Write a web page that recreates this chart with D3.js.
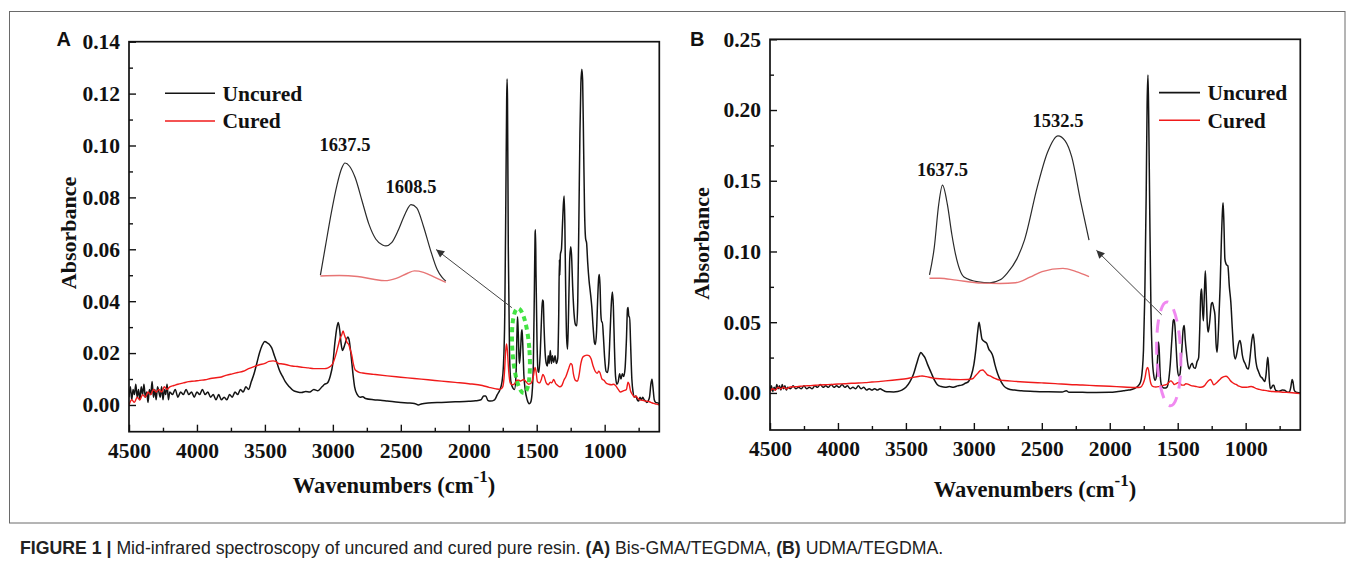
<!DOCTYPE html>
<html lang="en">
  <head>
    <meta charset="utf-8">
    <title>Mid-infrared spectra</title>
    <script src="https://d3js.org/d3.v7.min.js"></script>
    <style>
      body { margin: 0; background: #fff; }
    </style>
  </head>
  <body>
    <svg id="fig" width="1355" height="571"></svg>
    <script>
      // values: [wavenumber (cm-1), absorbance]
      var seriesNames = ["Uncured", "Cured"];
      var xTickLabels = [4500, 4000, 3500, 3000, 2500, 2000, 1500, 1000];
      var xMinorTicks = [4250, 3750, 3250, 2750, 2250, 1750, 1250, 750];
      var yTickLabelsA = [0, 0.02, 0.04, 0.06, 0.08, 0.10, 0.12, 0.14];
      var yMinorTicksA = [0.01, 0.03, 0.05, 0.07, 0.09, 0.11, 0.13];
      var yTickLabelsB = [0, 0.05, 0.10, 0.15, 0.20, 0.25];
      var yMinorTicksB = [0.025, 0.075, 0.125, 0.175, 0.225];

      var uncuredA = [[4500,0.003],[4490,0.007],[4480,0.002],[4470,0.006],[4460,0.004],[4450,0.008],[4440,0.003],[4430,0.006],[4420,0.002],[4410,0.007],[4400,0.004],[4390,0.008],[4380,0.003],[4370,0.005],[4360,0.001],[4350,0.006],[4340,0.004],[4330,0.009],[4320,0.003],[4310,0.006],[4300,0.002],[4290,0.007],[4280,0.005],[4270,0.003],[4260,0.007],[4250,0.002],[4240,0.006],[4230,0.004],[4220,0.008],[4210,0.002],[4200,0.005],[4180,0.004],[4160,0.006],[4140,0.003],[4120,0.005],[4100,0.004],[4080,0.006],[4060,0.004],[4040,0.005],[4020,0.003],[4000,0.005],[3980,0.004],[3960,0.006],[3940,0.004],[3920,0.005],[3900,0.003],[3880,0.004],[3860,0.002],[3840,0.004],[3820,0.002],[3800,0.003],[3780,0.002],[3760,0.004],[3740,0.003],[3720,0.005],[3700,0.004],[3680,0.006],[3660,0.005],[3640,0.007],[3620,0.006],[3600,0.009],[3580,0.012],[3560,0.016],[3540,0.020],[3520,0.023],[3500,0.0245],[3485,0.024],[3470,0.0235],[3450,0.022],[3430,0.019],[3410,0.016],[3390,0.013],[3370,0.011],[3350,0.009],[3320,0.007],[3290,0.0055],[3260,0.005],[3230,0.0048],[3200,0.0052],[3170,0.005],[3140,0.006],[3110,0.0055],[3080,0.007],[3060,0.008],[3040,0.0085],[3020,0.011],[3000,0.016],[2985,0.024],[2970,0.030],[2960,0.0318],[2950,0.029],[2940,0.024],[2930,0.021],[2920,0.022],[2905,0.0245],[2890,0.0262],[2880,0.025],[2870,0.021],[2860,0.016],[2850,0.011],[2840,0.007],[2820,0.004],[2800,0.003],[2780,0.0032],[2760,0.0025],[2700,0.002],[2650,0.0018],[2600,0.0015],[2550,0.0012],[2500,0.001],[2450,0.0008],[2400,0.0006],[2370,0.0],[2350,0.0004],[2300,0.0008],[2200,0.001],[2100,0.0012],[2000,0.0014],[1950,0.0016],[1910,0.002],[1890,0.0035],[1875,0.0035],[1860,0.0018],[1840,0.0015],[1810,0.002],[1790,0.004],[1770,0.006],[1756,0.0087],[1745,0.015],[1735,0.035],[1727,0.08],[1721,0.118],[1718,0.1256],[1715,0.118],[1709,0.06],[1700,0.02],[1690,0.009],[1675,0.0065],[1663,0.006],[1652,0.012],[1645,0.028],[1641,0.034],[1636,0.028],[1630,0.018],[1626,0.016],[1618,0.022],[1612,0.028],[1608,0.029],[1603,0.024],[1595,0.012],[1585,0.006],[1570,0.002],[1555,0.0005],[1545,0.001],[1535,0.004],[1525,0.015],[1517,0.045],[1512,0.066],[1509,0.0675],[1505,0.05],[1498,0.025],[1490,0.013],[1484,0.0126],[1474,0.02],[1465,0.033],[1458,0.0405],[1452,0.04],[1446,0.03],[1438,0.02],[1430,0.016],[1422,0.015],[1415,0.019],[1408,0.016],[1400,0.021],[1392,0.016],[1385,0.019],[1375,0.0165],[1365,0.019],[1355,0.016],[1345,0.018],[1338,0.035],[1333,0.056],[1330,0.050],[1326,0.058],[1318,0.06],[1310,0.07],[1303,0.078],[1298,0.0805],[1293,0.07],[1287,0.045],[1280,0.026],[1273,0.0215],[1266,0.035],[1258,0.055],[1250,0.061],[1244,0.058],[1235,0.045],[1225,0.035],[1215,0.031],[1205,0.0305],[1198,0.04],[1190,0.07],[1182,0.105],[1175,0.124],[1168,0.1294],[1162,0.125],[1155,0.10],[1148,0.075],[1140,0.064],[1133,0.0625],[1125,0.055],[1115,0.048],[1105,0.0433],[1095,0.038],[1085,0.03],[1075,0.024],[1068,0.0233],[1060,0.028],[1052,0.04],[1044,0.049],[1039,0.0503],[1034,0.046],[1028,0.035],[1022,0.032],[1017,0.032],[1010,0.027],[1000,0.018],[990,0.013],[980,0.0125],[970,0.016],[960,0.028],[950,0.04],[943,0.0435],[936,0.038],[928,0.022],[920,0.011],[910,0.008],[900,0.009],[890,0.012],[880,0.01],[870,0.012],[860,0.011],[850,0.014],[840,0.025],[832,0.037],[828,0.0376],[822,0.034],[816,0.034],[810,0.025],[800,0.01],[791,0.005],[780,0.003],[770,0.0035],[760,0.002],[750,0.0015],[740,0.003],[730,0.002],[720,0.003],[710,0.002],[700,0.0015],[690,0.001],[680,0.0015],[670,0.003],[660,0.008],[652,0.0099],[645,0.007],[635,0.002],[625,0.001],[610,0.0008],[598,0.0005]];

      var curedA = [[4500,0.000],[4480,0.002],[4460,0.001],[4440,0.003],[4420,0.002],[4400,0.004],[4380,0.003],[4360,0.005],[4340,0.004],[4320,0.006],[4300,0.005],[4280,0.006],[4260,0.005],[4240,0.007],[4220,0.006],[4200,0.007],[4170,0.0075],[4140,0.008],[4100,0.0085],[4060,0.009],[4020,0.0092],[3980,0.0095],[3940,0.0097],[3900,0.0102],[3860,0.0105],[3820,0.0108],[3780,0.0115],[3740,0.012],[3700,0.0125],[3660,0.013],[3620,0.014],[3580,0.0148],[3540,0.0155],[3500,0.016],[3470,0.0168],[3440,0.017],[3420,0.0168],[3400,0.016],[3370,0.0158],[3340,0.0155],[3300,0.015],[3260,0.0148],[3220,0.0145],[3180,0.0143],[3140,0.014],[3100,0.014],[3060,0.014],[3040,0.0142],[3020,0.0148],[3000,0.016],[2980,0.019],[2960,0.023],[2945,0.026],[2935,0.027],[2925,0.0285],[2915,0.027],[2905,0.0255],[2895,0.024],[2885,0.0235],[2870,0.021],[2860,0.019],[2850,0.016],[2835,0.0135],[2810,0.0127],[2780,0.0123],[2700,0.0118],[2600,0.0112],[2500,0.0107],[2400,0.0102],[2300,0.0097],[2200,0.0092],[2100,0.0087],[2000,0.0082],[1900,0.0075],[1850,0.0068],[1800,0.0062],[1770,0.006],[1750,0.007],[1738,0.012],[1728,0.021],[1722,0.0235],[1716,0.021],[1706,0.013],[1695,0.0085],[1680,0.0078],[1663,0.0082],[1645,0.0095],[1630,0.0095],[1621,0.0092],[1610,0.0095],[1596,0.0098],[1580,0.009],[1560,0.008],[1540,0.0085],[1525,0.011],[1512,0.0145],[1505,0.013],[1495,0.009],[1480,0.0085],[1465,0.01],[1455,0.0118],[1445,0.011],[1430,0.0085],[1415,0.0078],[1400,0.0088],[1390,0.0085],[1375,0.0098],[1360,0.0082],[1345,0.0075],[1330,0.007],[1315,0.0075],[1300,0.0095],[1285,0.011],[1265,0.014],[1250,0.016],[1240,0.0155],[1230,0.012],[1215,0.0095],[1200,0.0092],[1190,0.011],[1175,0.016],[1160,0.0185],[1145,0.019],[1130,0.0192],[1115,0.019],[1100,0.0178],[1085,0.015],[1070,0.013],[1055,0.0122],[1043,0.013],[1035,0.0125],[1020,0.01],[1005,0.0095],[990,0.0085],[970,0.008],[950,0.0078],[935,0.008],[920,0.0075],[900,0.006],[885,0.005],[860,0.0055],[840,0.006],[828,0.0088],[820,0.008],[810,0.0055],[795,0.004],[780,0.003],[770,0.0035],[755,0.0025],[740,0.002],[720,0.0018],[700,0.0015],[680,0.0014],[660,0.001],[640,0.0006],[620,0.0003],[598,0.0]];

      var uncuredB = [[4500,0.002],[4490,0.005],[4480,0.001],[4470,0.004],[4460,0.002],[4450,0.006],[4440,0.003],[4430,0.005],[4420,0.002],[4410,0.006],[4400,0.003],[4390,0.005],[4380,0.002],[4370,0.004],[4350,0.003],[4330,0.005],[4310,0.003],[4290,0.004],[4270,0.003],[4250,0.005],[4230,0.003],[4210,0.004],[4190,0.003],[4170,0.005],[4150,0.004],[4130,0.006],[4110,0.004],[4090,0.005],[4070,0.004],[4050,0.006],[4030,0.004],[4010,0.005],[3990,0.004],[3970,0.006],[3950,0.004],[3930,0.005],[3910,0.003],[3890,0.004],[3870,0.003],[3850,0.005],[3830,0.003],[3810,0.004],[3790,0.002],[3770,0.003],[3750,0.002],[3730,0.003],[3710,0.002],[3690,0.003],[3670,0.002],[3650,0.001],[3620,0.0008],[3590,0.0007],[3560,0.001],[3530,0.002],[3500,0.004],[3470,0.008],[3445,0.013],[3420,0.021],[3400,0.027],[3390,0.0285],[3375,0.027],[3360,0.025],[3340,0.02],[3315,0.0145],[3290,0.009],[3270,0.006],[3240,0.0045],[3210,0.004],[3180,0.0045],[3150,0.004],[3120,0.005],[3090,0.0055],[3060,0.007],[3040,0.008],[3020,0.012],[3000,0.02],[2985,0.031],[2972,0.043],[2962,0.05],[2952,0.045],[2940,0.038],[2925,0.0365],[2905,0.035],[2890,0.031],[2875,0.029],[2860,0.026],[2845,0.02],[2825,0.0135],[2800,0.008],[2780,0.005],[2750,0.003],[2700,0.002],[2650,0.0015],[2550,0.001],[2450,0.0008],[2350,0.0007],[2320,0.0015],[2300,0.0005],[2200,0.0004],[2100,0.0003],[2000,0.0004],[1950,0.0008],[1900,0.0015],[1860,0.002],[1820,0.003],[1782,0.006],[1768,0.01],[1752,0.03],[1742,0.07],[1732,0.14],[1725,0.205],[1719,0.2247],[1714,0.2],[1706,0.13],[1697,0.06],[1687,0.025],[1677,0.013],[1666,0.009],[1656,0.012],[1648,0.025],[1641,0.036],[1636,0.03],[1629,0.013],[1621,0.006],[1610,0.004],[1595,0.0035],[1580,0.004],[1568,0.008],[1555,0.02],[1543,0.038],[1533,0.051],[1528,0.052],[1521,0.048],[1513,0.035],[1503,0.018],[1493,0.012],[1484,0.013],[1470,0.03],[1460,0.045],[1452,0.0476],[1445,0.038],[1435,0.028],[1425,0.02],[1415,0.017],[1402,0.02],[1393,0.021],[1382,0.018],[1370,0.0175],[1358,0.022],[1346,0.025],[1338,0.045],[1330,0.07],[1324,0.0734],[1318,0.06],[1311,0.051],[1304,0.07],[1297,0.0863],[1290,0.07],[1282,0.048],[1276,0.043],[1265,0.05],[1252,0.063],[1245,0.064],[1235,0.06],[1226,0.055],[1218,0.035],[1210,0.0288],[1200,0.045],[1188,0.075],[1178,0.11],[1170,0.13],[1166,0.1344],[1160,0.12],[1153,0.095],[1147,0.092],[1140,0.0905],[1131,0.0898],[1120,0.075],[1109,0.064],[1098,0.045],[1088,0.03],[1077,0.024],[1065,0.028],[1052,0.035],[1042,0.037],[1034,0.034],[1025,0.027],[1015,0.023],[1005,0.021],[990,0.0175],[980,0.017],[968,0.025],[955,0.037],[945,0.0417],[936,0.035],[928,0.025],[919,0.019],[905,0.015],[890,0.0115],[878,0.0105],[868,0.009],[860,0.008],[850,0.013],[842,0.022],[837,0.0253],[832,0.02],[825,0.008],[818,0.003],[808,0.004],[800,0.0055],[793,0.0054],[785,0.003],[775,0.0015],[760,0.0012],[745,0.0015],[730,0.002],[714,0.0019],[700,0.001],[690,0.0005],[678,0.0008],[668,0.004],[658,0.0095],[652,0.008],[643,0.002],[633,0.0007],[620,0.0003],[598,0.0]];

      var curedB = [[4500,0.001],[4480,0.003],[4460,0.002],[4440,0.004],[4420,0.003],[4400,0.004],[4380,0.003],[4350,0.0042],[4300,0.0045],[4250,0.005],[4200,0.0052],[4150,0.0055],[4100,0.0058],[4050,0.006],[4000,0.0063],[3950,0.0065],[3900,0.0068],[3850,0.007],[3800,0.0073],[3750,0.0077],[3700,0.008],[3650,0.0085],[3600,0.009],[3550,0.0095],[3500,0.01],[3450,0.011],[3400,0.0118],[3380,0.012],[3350,0.0115],[3300,0.0105],[3250,0.01],[3200,0.0098],[3150,0.0095],[3100,0.0094],[3050,0.0095],[3010,0.01],[2990,0.012],[2970,0.014],[2950,0.016],[2935,0.0162],[2920,0.015],[2900,0.0128],[2880,0.012],[2850,0.0105],[2820,0.0093],[2780,0.0088],[2700,0.0082],[2600,0.0076],[2500,0.0071],[2400,0.0066],[2300,0.006],[2200,0.0056],[2100,0.0051],[2000,0.0047],[1900,0.0042],[1800,0.0038],[1775,0.004],[1755,0.0065],[1740,0.011],[1730,0.0165],[1722,0.018],[1714,0.016],[1705,0.01],[1695,0.006],[1680,0.0045],[1660,0.0042],[1640,0.0045],[1620,0.005],[1600,0.0055],[1580,0.006],[1565,0.0075],[1550,0.0085],[1538,0.0075],[1525,0.006],[1510,0.0065],[1495,0.0075],[1485,0.007],[1470,0.0055],[1455,0.0055],[1440,0.0065],[1425,0.0062],[1410,0.0055],[1395,0.005],[1380,0.0048],[1360,0.0045],[1340,0.004],[1320,0.0042],[1300,0.0055],[1285,0.0075],[1270,0.009],[1258,0.0095],[1248,0.008],[1235,0.0058],[1222,0.0065],[1205,0.008],[1190,0.0095],[1175,0.0108],[1160,0.0115],[1145,0.0118],[1130,0.011],[1115,0.009],[1100,0.0075],[1085,0.0065],[1070,0.006],[1055,0.005],[1040,0.0045],[1020,0.004],[1000,0.004],[980,0.0042],[960,0.0045],[940,0.004],[920,0.003],[900,0.0025],[880,0.002],[860,0.0018],[840,0.0015],[820,0.0012],[800,0.001],[760,0.0008],[720,0.0005],[680,0.0003],[640,0.0],[598,-0.0005]];

      // enlarged C=C region shown as insets
      var insetUncuredA = [[1648.3,0.0100],[1646,0.0165],[1643.5,0.0235],[1641,0.0295],[1639,0.0330],[1637.5,0.0342],[1635.5,0.0335],[1633,0.031],[1630,0.026],[1627,0.021],[1624,0.0178],[1621,0.0165],[1619.5,0.0163],[1617,0.017],[1614,0.0198],[1611,0.0233],[1608.5,0.0252],[1606,0.0245],[1603,0.0205],[1600,0.0155],[1597,0.0112],[1595,0.0096],[1593.2,0.0087]];
      var insetCuredA = [[1648.3,0.0098],[1640,0.0099],[1632,0.0097],[1625,0.0091],[1620,0.0088],[1615,0.0093],[1610,0.0104],[1607,0.0109],[1603,0.0106],[1598,0.0095],[1593.2,0.0084]];
      var insetPeaksA = [1637.5, 1608.5];
      var insetUncuredB = [[1649.3,0.0097],[1645,0.018],[1641,0.031],[1637.5,0.037],[1633,0.031],[1629,0.022],[1625.8,0.0162],[1618,0.0091],[1605,0.0076],[1594.4,0.0073],[1585,0.0082],[1578.8,0.0102],[1570,0.0145],[1563,0.0203],[1551.3,0.0365],[1542,0.047],[1532.5,0.052],[1526,0.0505],[1520,0.0456],[1512.1,0.0324],[1504.3,0.0203]];
      var insetCuredB = [[1649.3,0.0087],[1640,0.0087],[1625,0.0081],[1602,0.0072],[1585,0.0071],[1571,0.0073],[1558,0.009],[1547,0.0107],[1528,0.0117],[1516,0.0107],[1504.3,0.0092]];
      var insetPeaksB = [1637.5, 1532.5];

      var serif = "'Liberation Serif', 'Times New Roman', serif";
      var sans = "'Liberation Sans', Arial, sans-serif";
      var black = "#141414", red = "#f01a1a";

      var svg = d3.select("#fig");
      svg.append("rect").attr("width", 1355).attr("height", 571).attr("fill", "#fff");

      // outer figure box
      svg.append("rect")
          .attr("x", 9.5).attr("y", 11.5).attr("width", 1335.5).attr("height", 511.5)
          .attr("fill", "none").attr("stroke", "#6a6a6a").attr("stroke-width", 1);

      var defs = svg.append("defs");
      defs.append("marker")
          .attr("id", "arrow")
          .attr("viewBox", "0 0 10 10")
          .attr("refX", 10).attr("refY", 5)
          .attr("markerUnits", "userSpaceOnUse")
          .attr("markerWidth", 11).attr("markerHeight", 8)
          .attr("orient", "auto-start-reverse")
          .append("path").attr("d", "M0,0L10,5L0,10z").attr("fill", "#333");

      function drawPanel(p) {
        var x = d3.scaleLinear().domain([4500, 598]).range([p.left, p.right]);
        var y = d3.scaleLinear().domain(p.yDomain).range([p.bottom, p.top]);
        var g = svg.append("g");

        defs.append("clipPath").attr("id", "clip" + p.id)
          .append("rect").attr("x", p.left).attr("y", p.top)
          .attr("width", p.right - p.left).attr("height", p.bottom - p.top);

        // axes with inward ticks
        var gx = g.append("g").attr("transform", "translate(0," + p.bottom + ")")
            .call(d3.axisBottom(x).tickValues(xTickLabels).tickSize(-7).tickPadding(p.xPad).tickFormat(d3.format("d")));
        g.append("g").attr("transform", "translate(0," + p.bottom + ")")
            .call(d3.axisBottom(x).tickValues(xMinorTicks).tickSize(-4).tickFormat(""))
            .select(".domain").remove();
        var gy = g.append("g").attr("transform", "translate(" + p.left + ",0)")
            .call(d3.axisLeft(y).tickValues(p.yTicks).tickSize(-7).tickPadding(9).tickFormat(d3.format(".2f")));
        g.append("g").attr("transform", "translate(" + p.left + ",0)")
            .call(d3.axisLeft(y).tickValues(p.yMinor).tickSize(-4).tickFormat(""))
            .select(".domain").remove();
        [gx, gy].forEach(function(a) {
          a.select(".domain").remove();
          a.selectAll("text").attr("font-family", serif).attr("font-weight", "bold")
            .attr("font-size", 21.5).attr("fill", "#111");
        });
        g.selectAll(".tick line").attr("stroke", "#111").attr("stroke-width", 1.4);

        // spectra
        var line = d3.line()
            .x(function(d) { return x(d[0]); })
            .y(function(d) { return y(d[1]); })
            .curve(d3.curveMonotoneX);
        var plot = g.append("g").attr("clip-path", "url(#clip" + p.id + ")");
        plot.append("path").datum(p.uncured).attr("d", line)
            .attr("fill", "none").attr("stroke", black).attr("stroke-width", 1.5);
        plot.append("path").datum(p.cured).attr("d", line)
            .attr("fill", "none").attr("stroke", red).attr("stroke-width", 1.4);

        // frame
        g.append("rect").attr("x", p.left).attr("y", p.top)
            .attr("width", p.right - p.left).attr("height", p.bottom - p.top)
            .attr("fill", "none").attr("stroke", "#111").attr("stroke-width", 1.7);

        // dashed ellipse around the C=C bands
        var ec = [x(p.ellipse.at[0]), y(p.ellipse.at[1])];
        g.append("ellipse")
            .attr("transform", "translate(" + ec[0] + "," + ec[1] + ") rotate(" + p.ellipse.rot + ")")
            .attr("rx", p.ellipse.rx).attr("ry", p.ellipse.ry)
            .attr("fill", "none").attr("stroke", p.ellipse.color)
            .attr("stroke-width", p.ellipse.width).attr("stroke-dasharray", p.ellipse.dash)
            .attr("opacity", 0.9);

        // arrow to the inset
        g.append("line")
            .attr("x1", x(p.arrow[0][0])).attr("y1", y(p.arrow[0][1]))
            .attr("x2", x(p.arrow[1][0])).attr("y2", y(p.arrow[1][1]))
            .attr("stroke", "#444").attr("stroke-width", 1)
            .attr("marker-end", "url(#arrow)");

        // inset
        var ix = d3.scaleLinear().domain(p.inset.xDomain).range(p.inset.xRange);
        var iy = d3.scaleLinear().domain(p.inset.yDomain).range(p.inset.yRange);
        var iline = d3.line()
            .x(function(d) { return ix(d[0]); })
            .y(function(d) { return iy(d[1]); })
            .curve(d3.curveMonotoneX);
        g.append("path").datum(p.inset.uncured).attr("d", iline)
            .attr("fill", "none").attr("stroke", "#2a2a2a").attr("stroke-width", 1.2);
        g.append("path").datum(p.inset.cured).attr("d", iline)
            .attr("fill", "none").attr("stroke", "#e77575").attr("stroke-width", 1.4);
        p.inset.peaks.forEach(function(w) {
          var pt = p.inset.uncured.filter(function(d) { return d[0] === w; })[0];
          g.append("text")
              .attr("x", ix(w)).attr("y", iy(pt[1]) - p.inset.labelGap)
              .attr("text-anchor", "middle")
              .attr("font-family", serif).attr("font-weight", "bold").attr("font-size", 18.5)
              .attr("fill", "#111")
              .text(d3.format(".1f")(w));
        });

        // legend
        var lg = g.append("g").attr("transform", "translate(" + p.legend[0] + "," + p.legend[1] + ")");
        [black, red].forEach(function(c, i) {
          lg.append("line").attr("x1", 0).attr("x2", p.legendLen)
              .attr("y1", i * 27.7).attr("y2", i * 27.7)
              .attr("stroke", c).attr("stroke-width", 1.6);
          lg.append("text").attr("x", p.legendLen + 7.5).attr("y", i * 27.7 + 7.5)
              .attr("font-family", serif).attr("font-weight", "bold").attr("font-size", 21.5)
              .attr("fill", "#111").text(seriesNames[i]);
        });

        // axis titles
        g.append("text")
            .attr("transform", "translate(" + p.yTitle[0] + "," + p.yTitle[1] + ") rotate(-90)")
            .attr("text-anchor", "middle")
            .attr("font-family", serif).attr("font-weight", "bold").attr("font-size", 22)
            .attr("fill", "#111").text("Absorbance");
        var xt = g.append("text")
            .attr("x", p.xTitle[0]).attr("y", p.xTitle[1])
            .attr("text-anchor", "middle")
            .attr("font-family", serif).attr("font-weight", "bold").attr("font-size", 22.5)
            .attr("fill", "#111");
        xt.append("tspan").text("Wavenumbers (cm");
        xt.append("tspan").attr("dy", -11).attr("font-size", 17).text("-1");
        xt.append("tspan").attr("dy", 11).text(")");

        // panel letter
        g.append("text").attr("x", p.letter[0]).attr("y", p.letter[1])
            .attr("font-family", sans).attr("font-weight", "bold").attr("font-size", 20)
            .attr("fill", "#111").text(p.id);
      }

      drawPanel({
        id: "A", left: 129, right: 659.3, top: 41.7, bottom: 431.7,
        yDomain: [-0.0103, 0.14], yTicks: yTickLabelsA, yMinor: yMinorTicksA, xPad: 11.5,
        uncured: uncuredA, cured: curedA,
        ellipse: { at: [1616, 0.0209], rx: 8.5, ry: 42.5, rot: -4, color: "#2fe02f", width: 4, dash: "5,4" },
        arrow: [[1683, 0.0375], [2240, 0.0599]],
        inset: { xDomain: [1637.5, 1608.5], xRange: [345, 411], yDomain: [0.0342, 0.0087], yRange: [163, 281.1],
                 uncured: insetUncuredA, cured: insetCuredA, peaks: insetPeaksA, labelGap: 12 },
        legend: [165, 93.3], legendLen: 50,
        yTitle: [75.7, 233], xTitle: [394, 493], letter: [56.5, 46]
      });

      drawPanel({
        id: "B", left: 770, right: 1300.3, top: 39.3, bottom: 430,
        yDomain: [-0.0262, 0.25], yTicks: yTickLabelsB, yMinor: yMinorTicksB, xPad: 10.5,
        uncured: uncuredB, cured: curedB,
        ellipse: { at: [1566, 0.0276], rx: 12, ry: 52, rot: -2, color: "#ee7cee", width: 3, dash: "13,9" },
        arrow: [[1618, 0.0552], [2098, 0.1008]],
        inset: { xDomain: [1637.5, 1532.5], xRange: [942.5, 1058], yDomain: [0.052, 0.0073], yRange: [135.9, 282.8],
                 uncured: insetUncuredB, cured: insetCuredB, peaks: insetPeaksB, labelGap: 9 },
        legend: [1159, 92.6], legendLen: 41,
        yTitle: [708.7, 243.5], xTitle: [1035, 497], letter: [690, 46]
      });

      // caption, squeezed to the condensed width of the original
      var cap = svg.append("text").attr("x", 0).attr("y", 0)
          .attr("font-family", sans).attr("font-size", 18.5).attr("fill", "#222");
      cap.append("tspan").attr("font-weight", "bold").text("FIGURE 1 | ");
      cap.append("tspan").text("Mid-infrared spectroscopy of uncured and cured pure resin. ");
      cap.append("tspan").attr("font-weight", "bold").text("(A)");
      cap.append("tspan").text(" Bis-GMA/TEGDMA, ");
      cap.append("tspan").attr("font-weight", "bold").text("(B)");
      cap.append("tspan").text(" UDMA/TEGDMA.");
      var capLen = cap.node().getComputedTextLength();
      cap.attr("transform", "translate(20,554) scale(" + (924 / capLen) + ",1)");
    </script>
  </body>
</html>
